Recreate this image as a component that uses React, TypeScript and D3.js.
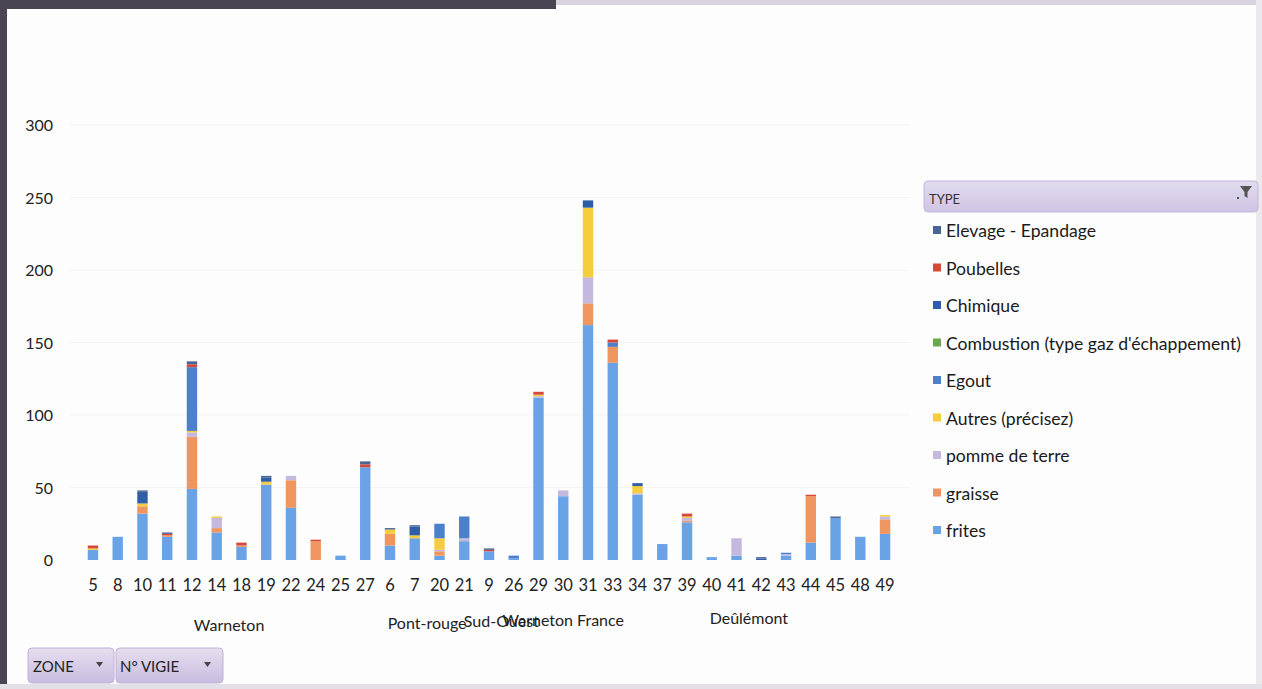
import React from "react";
import * as d3 from "d3";

// Vigie numbers along the axis, grouped by zone
const categories = ["5","8","10","11","12","14","18","19","22","24","25","27","6","7","20","21","9","26","29","30","31","33","34","37","39","40","41","42","43","44","45","48","49"];
const zoneNames = ["Warneton", "Pont-rouge", "Sud-Ouest", "Warneton France", "Deûlémont"];
const zoneSizes = [12, 4, 2, 3, 12];

// Series, bottom of the stack first
const seriesNames = ["frites", "graisse", "pomme de terre", "Autres (précisez)", "Egout", "Combustion (type gaz d'échappement)", "Chimique", "Poubelles", "Elevage - Epandage"];
const frites =     [7,16,32,16,49,19,9,52,36,0,3,64,10,15,3,13,6,1,112,44,162,136,45,11,26,2,3,0,3,12,29,16,18];
const graisse =    [0,0,5,1,36,3,1,0,19,13,0,0,8,0,3,0,0,0,0,0,15,11,0,0,1,0,0,0,0,32,0,0,10];
const pomme =      [0,0,0,0,3,7,0,0,3,0,0,0,0,0,1,2,0,0,1,4,18,0,1,0,2,0,12,0,1,0,0,0,2];
const autres =     [1,0,2,0,1,1,0,2,0,0,0,0,3,2,8,0,0,0,1,0,48,0,5,0,1,0,0,0,0,0,0,0,1];
const egout =      [0,0,0,0,44,0,0,0,0,0,0,0,0,0,10,15,0,2,0,0,0,3,0,0,0,0,0,0,1,0,0,0,0];
const combustion = [0,0,0,0,0,0,0,0,0,0,0,0,0,0,0,0,0,0,0,0,0,0,0,0,0,0,0,0,0,0,0,0,0];
const chimique =   [0,0,8,0,0,0,0,3,0,0,0,0,0,6,0,0,0,0,0,0,5,0,2,0,0,0,0,1,0,0,0,0,0];
const poubelles =  [2,0,0,1,2,0,2,0,0,1,0,2,0,0,0,0,1,0,2,0,0,2,0,0,2,0,0,0,0,1,0,0,0];
const elevage =    [0,0,1,1,2,0,0,1,0,0,0,2,1,1,0,0,1,0,0,0,0,0,0,0,0,0,0,1,0,0,1,0,0];
const seriesValues = [frites, graisse, pomme, autres, egout, combustion, chimique, poubelles, elevage];
const seriesColors = ["#6aa2e6", "#ef9560", "#c4b8de", "#f4cc3c", "#4c80cc", "#6aa84f", "#2f5ea8", "#d44a3a", "#4a6494"];

const yTicks = [0, 50, 100, 150, 200, 250, 300];

const FONT = "Lato, 'Open Sans', sans-serif";

export default function App() {
  const W = 1262, H = 689;
  const x = d3.scaleBand<string>().domain(categories).range([73.4, 904.6]).padding(0.58);
  const y = d3.scaleLinear().domain([0, 300]).range([560, 125]);

  const table = categories.map((c, i) => {
    const row: Record<string, number | string> = { cat: c };
    seriesNames.forEach((s, k) => { row[s] = seriesValues[k][i]; });
    return row;
  });
  const stacked = d3.stack<any>().keys(seriesNames)(table);

  // Zone label centres
  let start = 0;
  const zones = zoneNames.map((name, k) => {
    const first = categories[start];
    const last = categories[start + zoneSizes[k] - 1];
    start += zoneSizes[k];
    const cx = ((x(first) ?? 0) + (x(last) ?? 0) + x.bandwidth()) / 2;
    return { name, cx };
  });
  const zoneY = [631, 629, 627, 626, 624];

  const legendItems = [...seriesNames].reverse();
  const legendColors = [...seriesColors].reverse();

  return (
    <div style={{ position: "fixed", left: 0, top: 0, width: W, height: H, background: "#fff" }}>
      <svg width={W} height={H} style={{ display: "block", fontFamily: FONT }}>
        <defs>
          <linearGradient id="btn" x1="0" y1="0" x2="0" y2="1">
            <stop offset="0" stopColor="#e6def0" />
            <stop offset="1" stopColor="#c9bcdf" />
          </linearGradient>
          <linearGradient id="hdr" x1="0" y1="0" x2="0" y2="1">
            <stop offset="0" stopColor="#e2dbee" />
            <stop offset="1" stopColor="#cfc4e4" />
          </linearGradient>
        </defs>
        <rect x={0} y={0} width={W} height={H} fill="#fdfdfd" />
        {/* frame edges */}
        <rect x={0} y={0} width={556} height={9} fill="#4b4453" />
        <rect x={556} y={0} width={W - 556} height={5} fill="#d9d3e0" />
        <rect x={0} y={0} width={7} height={H} fill="#4b4453" />
        <rect x={1256} y={0} width={6} height={H} fill="#ebe8ee" />
        <rect x={0} y={684} width={W} height={5} fill="#e4e0e8" />

        {/* faint gridlines */}
        {yTicks.slice(1).map(t => (
          <line key={t} x1={70} x2={910} y1={y(t)} y2={y(t)} stroke="#f4f4f6" strokeWidth={1} />
        ))}

        {/* y labels */}
        {yTicks.map(t => (
          <text key={t} x={53} y={y(t) + 6} textAnchor="end" fontSize={16} fill="#222">{t}</text>
        ))}

        {/* stacked bars */}
        {stacked.map((layer, k) => (
          <g key={seriesNames[k]} fill={seriesColors[k]}>
            {layer.map((d, i) => {
              const h = y(d[0]) - y(d[1]);
              if (h <= 0) return null;
              return (
                <rect key={i} x={x(categories[i])} y={y(d[1])} width={x.bandwidth()} height={h} />
              );
            })}
          </g>
        ))}

        {/* category labels */}
        {categories.map(c => (
          <text key={c} x={(x(c) ?? 0) + x.bandwidth() / 2} y={591} textAnchor="middle" fontSize={16.5} fill="#222">{c}</text>
        ))}

        {/* zone labels */}
        {zones.map((z, k) => (
          <text key={z.name} x={z.cx} y={zoneY[k]} textAnchor="middle" fontSize={16} fill="#222">{z.name}</text>
        ))}

        {/* legend */}
        <rect x={924} y={181} width={334} height={31} rx={4} fill="url(#hdr)" stroke="#c3b7da" />
        <text x={929} y={204} fontSize={13} fill="#333">TYPE</text>
        <path d="M1240,186 L1252,186 L1247.5,192 L1247.5,198 L1244.5,196 L1244.5,192 Z" fill="#555" />
        <rect x={1237} y={197} width={2} height={2} fill="#555" />
        {legendItems.map((name, k) => {
          const ly = 231 + k * 37.5;
          return (
            <g key={name}>
              <rect x={933} y={ly - 5} width={8} height={8} fill={legendColors[k]} />
              <text x={946} y={ly + 6} fontSize={17.6} fill="#1a1a1a">{name}</text>
            </g>
          );
        })}

        {/* field buttons */}
        <rect x={28} y={648} width={86} height={35} rx={4} fill="url(#btn)" stroke="#bfb2d6" />
        <text x={33} y={672} fontSize={15} fill="#222">ZONE</text>
        <path d="M96,662 L103,662 L99.5,667 Z" fill="#444" />
        <rect x={116} y={648} width={107} height={35} rx={4} fill="url(#btn)" stroke="#bfb2d6" />
        <text x={120} y={672} fontSize={15} fill="#222">N° VIGIE</text>
        <path d="M204,662 L211,662 L207.5,667 Z" fill="#444" />
      </svg>
    </div>
  );
}
